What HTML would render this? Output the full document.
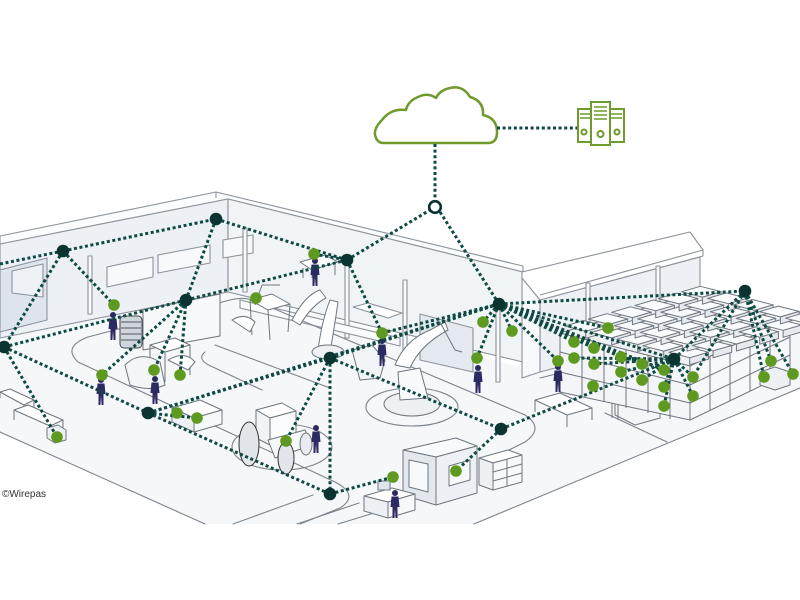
<!DOCTYPE html>
<html><head><meta charset="utf-8"><style>
html,body{margin:0;padding:0;background:#fff;}
svg{display:block;}
</style></head><body>
<svg id="s" width="800" height="600" viewBox="0 0 800 600" xmlns="http://www.w3.org/2000/svg">
<defs>
<g id="per"><circle cx="0" cy="3" r="3"/><path d="M-3.5,6.5 L3.5,6.5 L4.5,17 L2.5,17 L2.5,28 L0.6,28 L0,19 L-0.6,28 L-2.5,28 L-2.5,17 L-4.5,17 Z"/></g>
</defs>
<rect width="800" height="600" fill="#fff"/>
<polygon points="0,338 228,292 540,372 705,330 800,330 800,388 474,524 205,524 0,432" fill="#f5f7f9"/>
<g stroke="#8c939b" stroke-width="1.1" stroke-linejoin="round">
<polygon points="0,236 216,192 523,266 523,272 228,199 0,244" fill="#fbfcfd"/>
<polygon points="0,244 228,199 228,292 0,338" fill="#edf1f5"/>
<polygon points="228,199 523,272 523,362 228,292" fill="#f1f4f7"/>
<line x1="216" y1="192" x2="216" y2="198"/>
<polygon points="107,267 153,257 153,277 107,287" fill="#f7f9fb"/>
<polygon points="158,255 210,245 210,263 158,273" fill="#f7f9fb"/>
<polygon points="223,240 253,235 253,253 223,258" fill="#f7f9fb"/>
<polygon points="0,270 47,258 47,320 0,332" fill="#dde4ec"/>
<polygon points="12,271 43,264 43,297 12,293" fill="#eef2f6"/>
<rect x="88" y="256" width="4" height="58" fill="#f7f9fb"/>
<rect x="243" y="228" width="4" height="64" fill="#f7f9fb"/>
<rect x="345" y="262" width="4" height="76" fill="#f7f9fb"/>
<rect x="403" y="280" width="4" height="84" fill="#f7f9fb"/>
<rect x="496" y="306" width="4" height="76" fill="#f7f9fb"/>
<polygon points="420,314 473,328 473,372 420,360" fill="#e3e9ef"/>
<polygon points="240,300 400,338 400,346 240,308" fill="#fafbfc"/>
<polygon points="353,307 368,303 402,313 388,318" fill="#fff"/>
<polygon points="540,300 700,257 700,330 540,372" fill="#edf1f5"/>
<polygon points="522,276 540,300 540,372 522,378" fill="#f7f9fb"/>
<polygon points="522,272 690,232 703,250 703,256 540,300 522,278" fill="#fff"/>
<line x1="540" y1="295" x2="703" y2="250"/>
<rect x="586" y="283" width="4" height="72" fill="#f7f9fb"/>
<rect x="656" y="266" width="4" height="72" fill="#f7f9fb"/>
</g>
<g stroke="#7d848c" stroke-width="1.1" fill="none" stroke-linecap="round">
<line x1="0" y1="432" x2="205" y2="524"/>
<line x1="474" y1="524" x2="800" y2="388"/>
<line x1="233" y1="524" x2="313" y2="495"/>
<line x1="297" y1="524" x2="359" y2="503"/>
<line x1="338" y1="524" x2="374" y2="513"/>
<line x1="605" y1="413" x2="667" y2="442"/>
<path d="M88,337 L230,300 Q245,296 258,302 L525,415 Q545,428 525,442 L505,452"/>
<path d="M88,337 Q62,347 78,362 L335,482 Q360,495 340,508 L300,524"/>
<path d="M215,345 L330,388 M205,352 Q195,360 215,368 L262,390"/>
<ellipse cx="282" cy="447" rx="50" ry="23"/>
<ellipse cx="412" cy="407" rx="46" ry="19"/>
<line x1="540" y1="378" x2="800" y2="312"/>
</g>
<g stroke="#6f767e" stroke-width="1" stroke-linejoin="round">
<polygon points="0,392 10,389 34,400 24,405" fill="#fff"/><path d="M0,392 v6 M24,405 v10 M34,400 v10" fill="none"/>
<polygon points="14,410 28,405 63,420 50,426" fill="#fff"/><path d="M14,410 v10 M50,426 v10 M63,420 v10" fill="none"/>
<polygon points="47,428 58,425 66,430 66,440 55,443 47,438" fill="#eef1f4"/>
<polygon points="143,310 220,294 220,336 143,350" fill="#f6f8fa"/>
<rect x="120" y="316" width="22" height="32" rx="4" fill="#cfd6de" stroke="#444"/>
<path d="M121,322 h20 M121,328 h20 M121,334 h20 M121,340 h20" stroke="#555" fill="none"/>
<polygon points="150,345 175,338 190,345 165,352" fill="#fff"/>
<path d="M150,345 v40 M165,352 v30 M190,345 v30" fill="none"/>
<path d="M125,365 Q140,350 160,362 L165,385 Q150,392 130,385 Z" fill="#f3f5f7"/>
<path d="M168,360 Q185,350 195,362 L188,370 Z" fill="#fff"/>
<polygon points="250,300 272,294 290,304 268,310" fill="#fff"/>
<path d="M250,300 L252,335 M268,310 L270,340 M290,304 L288,332 M255,305 L262,285 L280,285" fill="none"/>
<path d="M232,320 Q245,312 255,322 L250,332 Z" fill="#fff"/>
<polygon points="300,262 325,255 338,262 312,270" fill="#fff"/>
<path d="M303,268 v10 M335,265 v10 M312,270 v8" fill="none"/>
<path d="M292,320 Q305,295 320,290 L326,298 Q312,305 300,325 Z" fill="#fff"/>
<path d="M318,350 Q322,320 330,300 L338,302 Q334,330 330,352 Z" fill="#fff"/>
<ellipse cx="328" cy="352" rx="16" ry="7" fill="#eef1f4"/>
<path d="M352,350 L372,345 L385,360 L380,378 L360,380 Z" fill="#f1f4f7"/>
<ellipse cx="412" cy="404" rx="28" ry="12" fill="#eef1f4"/>
<path d="M400,400 L398,372 L420,368 L428,398 Z" fill="#f7f9fb"/>
<path d="M395,365 Q405,340 430,330 L445,322 L448,330 Q420,345 410,368 Z" fill="#fff"/>
<path d="M440,322 L455,350 L462,352" fill="none"/>
<polygon points="256,410 282,403 296,411 270,418" fill="#fff"/>
<polygon points="256,410 270,418 270,445 256,438" fill="#f1f4f7"/>
<polygon points="270,418 296,411 296,438 270,445" fill="#fbfcfd"/>
<polygon points="268,440 305,430 312,445 275,458" fill="#f6f8fa"/>
<ellipse cx="249" cy="444" rx="10" ry="22" fill="#e2e6eb" stroke="#333"/>
<ellipse cx="286" cy="458" rx="8" ry="16" fill="#e2e6eb" stroke="#333"/>
<ellipse cx="306" cy="444" rx="6" ry="11" fill="#e8ebef"/>
<polygon points="172,408 200,400 222,410 194,418" fill="#fff"/>
<polygon points="172,408 194,418 194,432 172,422" fill="#eef1f4"/>
<polygon points="194,418 222,410 222,424 194,432" fill="#f6f8fa"/>
<polygon points="403,450 456,438 477,446 436,457" fill="#f8fafb"/>
<polygon points="403,450 436,457 436,505 403,495" fill="#e2e8ee"/>
<polygon points="436,457 477,446 477,493 436,505" fill="#edf1f5"/>
<polygon points="409,460 428,464 428,492 409,487" fill="#f7f9fb"/>
<polygon points="449,466 470,460 470,480 449,486" fill="#f7f9fb"/>
<polygon points="479,458 508,450 522,455 493,463" fill="#fff"/>
<polygon points="479,458 493,463 493,490 479,485" fill="#eef1f4"/>
<polygon points="493,463 522,455 522,482 493,490" fill="#f6f8fa"/>
<path d="M493,472 L522,464 M493,481 L522,473 M507,459 L507,486" fill="none"/>
<polygon points="364,496 392,488 415,494 388,502" fill="#fff"/>
<polygon points="364,496 388,502 388,518 364,511" fill="#eef1f4"/>
<polygon points="388,502 415,494 415,510 388,518" fill="#f6f8fa"/>
<rect x="378" y="481" width="12" height="9" fill="#dfe5eb"/>
<polygon points="535,400 560,393 592,408 567,415" fill="#fff"/>
<path d="M535,400 v12 M567,415 v12 M592,408 v12" fill="none"/>
<path d="M615,392 L640,385 L660,395 L660,418 L635,425 L615,415 Z" fill="#f3f5f7"/>
<path d="M612,380 L612,418 M618,378 L618,420" fill="none"/>
<polygon points="560,333 700,292 790,318 690,366" fill="#eef1f4"/>
<polygon points="560,333 690,366 690,420 560,392" fill="#f3f5f8"/>
<polygon points="690,366 790,318 790,372 690,420" fill="#f6f8fa"/>
<path d="M560,352 L690,385 L790,337 M560,372 L690,403 L790,355" fill="none"/>
<path d="M582,339 v58 M604,344 v58 M626,350 v58 M648,355 v58 M670,361 v58 M710,356 v54 M730,347 v54 M750,337 v54 M770,328 v54" fill="none"/>
<g id="boxes"></g>
<polygon points="760,372 775,367 790,372 790,385 775,390 760,385" fill="#eef1f4"/>
</g>
<g fill="#2c2a62">
<use href="#per" x="113" y="312"/>
<use href="#per" x="101" y="377"/>
<use href="#per" x="155" y="376"/>
<use href="#per" x="316" y="425"/>
<use href="#per" x="395" y="490"/>
<use href="#per" x="478" y="365"/>
<use href="#per" x="558" y="364"/>
<use href="#per" x="382" y="338"/>
<use href="#per" x="315" y="258"/>
</g>
<path d="M383,143 H488 Q497,143 497,132 Q497,118 483,115 Q484,101 470,97 Q463,85 450,88 Q440,90 436,98 Q428,92 418,97 Q408,101 406,110 Q391,108 382,120 Q374,128 375,135 Q377,143 383,143 Z" fill="#fff" stroke="#6f9a2c" stroke-width="2.5" stroke-linejoin="round"/>
<g stroke="#6f9a2c" stroke-width="2" fill="#fff">
<rect x="578" y="109" width="14" height="33"/>
<rect x="609" y="109" width="15" height="33"/>
<rect x="591" y="102" width="19" height="43"/>
<path d="M580,114 h10 M580,118 h10 M611,114 h11 M611,118 h11 M594,107 h13 M594,111 h13 M594,115 h13 M594,119 h13" fill="none" stroke-width="1.5"/>
<circle cx="584" cy="132" r="2.5"/><circle cx="600.5" cy="134" r="3"/><circle cx="617" cy="132" r="2.5"/>
</g>
<g stroke="#0e4a44" stroke-width="3" stroke-dasharray="3 2.6" fill="none">
<line x1="497" y1="128" x2="577" y2="128"/>
<line x1="435" y1="144" x2="435" y2="200"/>
<line x1="0" y1="264" x2="63" y2="251"/>
<line x1="63" y1="251" x2="216" y2="219"/>
<line x1="216" y1="219" x2="347" y2="260"/>
<line x1="216" y1="219" x2="186" y2="300"/>
<line x1="63" y1="251" x2="4" y2="347"/>
<line x1="63" y1="251" x2="114" y2="305"/>
<line x1="4" y1="347" x2="186" y2="300"/>
<line x1="186" y1="300" x2="347" y2="260"/>
<line x1="186" y1="300" x2="102" y2="375"/>
<line x1="186" y1="300" x2="154" y2="370"/>
<line x1="186" y1="300" x2="180" y2="375"/>
<line x1="347" y1="260" x2="430" y2="210"/>
<line x1="440" y1="212" x2="499" y2="304"/>
<line x1="347" y1="260" x2="382" y2="333"/>
<line x1="314" y1="254" x2="347" y2="260"/>
<line x1="382" y1="333" x2="499" y2="304"/>
<line x1="4" y1="347" x2="148" y2="413"/>
<line x1="4" y1="347" x2="57" y2="437"/>
<line x1="148" y1="413" x2="330" y2="358"/>
<line x1="148" y1="413" x2="499" y2="304"/>
<line x1="148" y1="413" x2="330" y2="494"/>
<line x1="148" y1="413" x2="197" y2="418"/>
<line x1="330" y1="358" x2="330" y2="494"/>
<line x1="330" y1="358" x2="286" y2="441"/>
<line x1="330" y1="358" x2="501" y2="429"/>
<line x1="330" y1="358" x2="499" y2="304"/>
<line x1="330" y1="494" x2="393" y2="477"/>
<line x1="501" y1="429" x2="456" y2="471"/>
<line x1="501" y1="429" x2="674" y2="359"/>
<line x1="499" y1="304" x2="483" y2="322"/>
<line x1="499" y1="304" x2="512" y2="331"/>
<line x1="499" y1="304" x2="477" y2="358"/>
<line x1="499" y1="304" x2="745" y2="291"/>
<line x1="499" y1="304" x2="674" y2="359"/>
<line x1="499" y1="304" x2="558" y2="361"/>
<line x1="499" y1="304" x2="608" y2="328"/>
<line x1="499" y1="304" x2="574" y2="342"/>
<line x1="499" y1="304" x2="594" y2="348"/>
<line x1="499" y1="304" x2="621" y2="357"/>
<line x1="499" y1="304" x2="642" y2="364"/>
<line x1="499" y1="304" x2="664" y2="370"/>
<line x1="745" y1="291" x2="674" y2="359"/>
<line x1="745" y1="291" x2="771" y2="361"/>
<line x1="745" y1="291" x2="764" y2="377"/>
<line x1="745" y1="291" x2="793" y2="374"/>
<line x1="745" y1="291" x2="693" y2="377"/>
<line x1="674" y1="359" x2="574" y2="358"/>
<line x1="674" y1="359" x2="594" y2="364"/>
<line x1="674" y1="359" x2="621" y2="372"/>
<line x1="674" y1="359" x2="642" y2="380"/>
<line x1="674" y1="359" x2="664" y2="387"/>
<line x1="674" y1="359" x2="664" y2="406"/>
<line x1="674" y1="359" x2="693" y2="396"/>
<line x1="674" y1="359" x2="693" y2="377"/>
</g>
<circle cx="435" cy="207" r="5.8" fill="#fff" stroke="#0b3330" stroke-width="2.6"/>
<g fill="#0b3330">
<circle cx="216" cy="219" r="6.3"/><circle cx="63" cy="251" r="6.3"/><circle cx="347" cy="260" r="6.3"/>
<circle cx="4" cy="347" r="6.3"/><circle cx="186" cy="300" r="6.3"/><circle cx="499" cy="304" r="6.3"/>
<circle cx="745" cy="291" r="6.3"/><circle cx="674" cy="359" r="6.3"/><circle cx="330" cy="358" r="6.3"/>
<circle cx="148" cy="413" r="6.3"/><circle cx="330" cy="494" r="6.3"/><circle cx="501" cy="429" r="6.3"/>
</g>
<g fill="#5d9a1f">
<circle cx="114" cy="305" r="5.8"/><circle cx="102" cy="375" r="5.8"/><circle cx="154" cy="370" r="5.8"/>
<circle cx="180" cy="375" r="5.8"/><circle cx="57" cy="437" r="5.8"/><circle cx="177" cy="413" r="5.8"/>
<circle cx="197" cy="418" r="5.8"/><circle cx="256" cy="298" r="5.8"/><circle cx="314" cy="254" r="5.8"/>
<circle cx="286" cy="441" r="5.8"/><circle cx="382" cy="333" r="5.8"/><circle cx="393" cy="477" r="5.8"/>
<circle cx="456" cy="471" r="5.8"/><circle cx="593" cy="386" r="5.8"/><circle cx="483" cy="322" r="5.8"/>
<circle cx="512" cy="331" r="5.8"/><circle cx="477" cy="358" r="5.8"/><circle cx="558" cy="361" r="5.8"/>
<circle cx="608" cy="328" r="5.8"/><circle cx="574" cy="342" r="5.8"/><circle cx="594" cy="348" r="5.8"/>
<circle cx="574" cy="358" r="5.8"/><circle cx="594" cy="364" r="5.8"/><circle cx="621" cy="357" r="5.8"/>
<circle cx="642" cy="364" r="5.8"/><circle cx="664" cy="370" r="5.8"/><circle cx="621" cy="372" r="5.8"/>
<circle cx="642" cy="380" r="5.8"/><circle cx="664" cy="387" r="5.8"/><circle cx="693" cy="377" r="5.8"/>
<circle cx="693" cy="396" r="5.8"/><circle cx="664" cy="406" r="5.8"/><circle cx="771" cy="361" r="5.8"/>
<circle cx="764" cy="377" r="5.8"/><circle cx="793" cy="374" r="5.8"/>
</g>
<text x="2" y="497" font-family="Liberation Sans, sans-serif" font-size="10" fill="#333">©Wirepas</text>
</svg>
<script>
(function(){
var g=document.getElementById('boxes');var ns='http://www.w3.org/2000/svg';
function poly(pts,fill){var p=document.createElementNS(ns,'polygon');p.setAttribute('points',pts.map(function(a){return a[0].toFixed(1)+','+a[1].toFixed(1);}).join(' '));p.setAttribute('fill',fill);g.appendChild(p);}
var A=[560,333],u=[140/6,-41/6],v=[130/5,33/5];
for(var i=0;i<6;i++){for(var j=0;j<5;j++){
var ox=A[0]+u[0]*(i+0.1)+v[0]*(j+0.1),oy=A[1]+u[1]*(i+0.1)+v[1]*(j+0.1)-7;
var a=[ox,oy],b=[ox+u[0]*0.8,oy+u[1]*0.8],c=[b[0]+v[0]*0.8,b[1]+v[1]*0.8],d=[ox+v[0]*0.8,oy+v[1]*0.8];
poly([d,c,[c[0],c[1]+7],[d[0],d[1]+7]],'#e6eaef');
poly([a,b,c,d],'#fafbfc');
}}
})();
</script>
</body></html>
